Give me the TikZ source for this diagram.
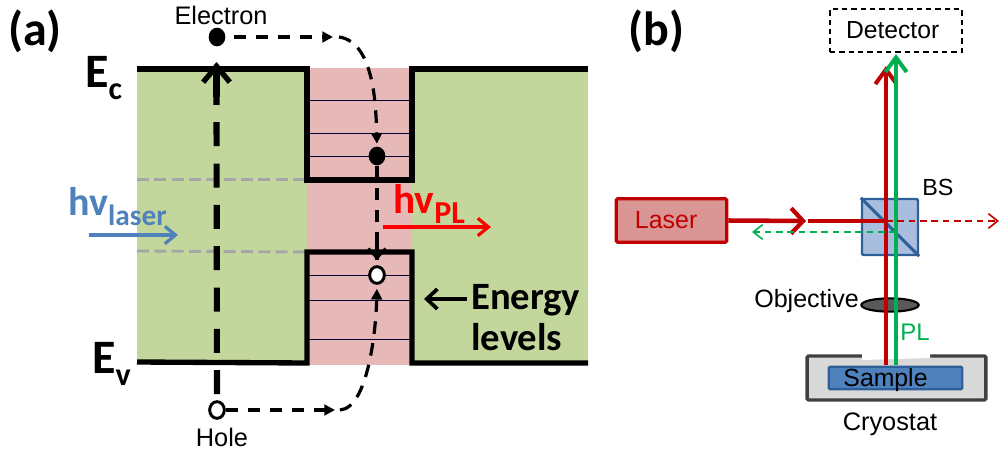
\documentclass[tikz,border=0pt]{standalone}
\usepackage{fontspec}
\setmainfont{Liberation Sans}
\newfontfamily\carl{Carlito}
\usetikzlibrary{arrows.meta,shapes.geometric}
\definecolor{greenband}{HTML}{C3D69B}
\definecolor{pinkband}{HTML}{E6B9B8}
\definecolor{beamred}{HTML}{C00000}
\definecolor{beamgreen}{HTML}{00B050}
\definecolor{blueLab}{HTML}{4F81BD}
\definecolor{hvred}{HTML}{FF0000}
\definecolor{laserfill}{HTML}{D99694}
\definecolor{bsfill}{HTML}{A9BEDE}
\definecolor{bsedge}{HTML}{2F5F98}
\tikzset{
  x=0.75pt,y=-0.75pt,
  band/.style={line width=4pt,line join=miter},
  level/.style={line width=0.6pt,draw=black!60!blue!50!black},
  greydash/.style={line width=2.2pt,draw=black!35,dash pattern=on 9pt off 4pt},
  carrier/.style={ellipse,minimum width=12.5pt,minimum height=14pt,inner sep=0pt},
  filled/.style={carrier,fill=black},
  hollow/.style={carrier,fill=white,draw=black,line width=2.2pt,minimum width=11pt,minimum height=12.5pt},
  flow/.style={line width=2.4pt,dash pattern=on 9.5pt off 7pt},
  lbl/.style={inner sep=0pt,text=black},
  small/.style={lbl,font=\fontsize{19}{21}\selectfont},
  big/.style={lbl,font=\carl\fontsize{36}{38}\selectfont\bfseries},
  engy/.style={lbl,font=\carl\fontsize{29}{31}\selectfont\bfseries},
  thintip/.style={-{Straight Barb[length=7pt,width=11pt,line width=1.2pt]}},
  beam/.style={line width=3.4pt},
}
\begin{document}
\begin{tikzpicture}
\useasboundingbox (0,0) rectangle (999,453);
% --- panel (a) backgrounds
\fill[greenband] (137,69) rectangle (307,363);
\fill[pinkband] (307,68) rectangle (412,365);
\fill[greenband] (412,69) rectangle (588,363);
% grey dashes
\coordinate (g1a) at (137,179.5); \coordinate (g1b) at (307,179.5);
\coordinate (g2a) at (137,251); \coordinate (g2b) at (307,252);
\draw[greydash] (g1a) -- (g1b);
\draw[greydash] (g2a) -- (g2b);
% levels
\foreach \yy in {100,133,156,275,300,339}{
  \draw[level] (307,\yy) -- (412,\yy);
}
% band edges
\draw[band] (137,69) -- (307,69) -- (307,180) -- (412,180) -- (412,69) -- (588,69);
\draw[band] (137,362) -- (307,363) -- (307,252) -- (412,252) -- (412,363) -- (588,363);
% carriers
\node[filled] (e1) at (217,37) {};
\node[filled] (e2) at (377,156) {};
\node[hollow] (h1) at (217,410) {};
\node[hollow] (h2) at (377,275) {};
% vertical excitation
\coordinate (ctop) at (216.5,62);
\draw[line width=4.6pt,dash pattern=on 18pt off 13pt] (h1.north) ++(0,-6) -- (216.5,97);
\draw[line width=4.6pt,-{Straight Barb[length=12pt,width=20pt,line width=4pt]}] (216.5,97) -- (ctop);
% electron path
\coordinate (em) at (333,37);
\draw[flow,-{Triangle[length=8pt,width=8pt]}] (e1.east) ++(8,0) -- (em);
\draw[flow,shorten >=2pt,-{Triangle[length=8pt,width=8pt]}] (em) ++(6,0) .. controls (375,42) and (376,110) .. (e2.north);
% hole path
\coordinate (hm) at (335,410);
\draw[flow,-{Triangle[length=8pt,width=8pt]}] (h1.east) -- (hm);
\draw[flow,shorten >=3pt,-{Triangle[length=8pt,width=8pt]}] (hm) ++(5,0) .. controls (368,408) and (376,330) .. (h2.south);
% recombination
\coordinate (rb) at (377,260);
\draw[flow] (e2.south) -- (rb);
\draw[line width=2.4pt,-{Straight Barb[length=7pt,width=13pt,line width=2.2pt]}] (377,240) -- (rb);
% arrows
\coordinate (la) at (89,235); \coordinate (lb) at (178,235);
\draw[blueLab,line width=2.4pt,-{Straight Barb[length=8pt,width=13pt,line width=2.4pt]}] (la) -- (lb);
\coordinate (pa) at (383,227); \coordinate (pb) at (491,227);
\draw[hvred,line width=2.4pt,-{Straight Barb[length=8pt,width=13pt,line width=2.4pt]}] (pa) -- (pb);
\coordinate (ea) at (467,299); \coordinate (eb) at (424,299);
\draw[line width=2.8pt,-{Straight Barb[length=8pt,width=15pt,line width=2.8pt]}] (ea) -- (eb);
% labels (a)
\node[big,anchor=base west] (pa1) at (8,46) {(a)};
\node[big,anchor=base west] (pb1) at (628,46) {(b)};
\node[big,anchor=base west] (ec) at (85,88) {E\raisebox{-9pt}{\fontsize{24}{26}\selectfont c}};
\node[big,anchor=base west] (ev) at (92,373) {E\raisebox{-9.5pt}{\fontsize{24}{26}\selectfont v}};
\node[small,anchor=base] (tel) at (221,25) {Electron};
\node[small,anchor=base] (thl) at (222,446) {Hole};
\node[lbl,text=blueLab,anchor=base west,font=\carl\fontsize{30}{32}\selectfont\bfseries] (hvl) at (68,215) {hv\raisebox{-7.5pt}{\fontsize{22}{24}\selectfont laser}};
\node[lbl,text=hvred,anchor=base west,font=\carl\fontsize{31}{33}\selectfont\bfseries] (hvp) at (393,213) {hv\raisebox{-7.5pt}{\fontsize{24}{26}\selectfont PL}};
\node[engy,anchor=base west] (en) at (471,309) {Energy};
\node[engy,anchor=base west] (lv) at (471,350) {levels};
% --- panel (b)
\node[draw=black,line width=1.2pt,dash pattern=on 4pt off 3pt,minimum width=99pt,minimum height=32pt,inner sep=0pt,font=\fontsize{18.5}{20}\selectfont] (det) at (896,30.5) {\hspace*{-5pt}Detector};
\node[draw=beamred,fill=laserfill,line width=2.4pt,rounded corners=1pt,minimum width=83pt,minimum height=32.5pt,inner sep=0pt,text=beamred,font=\fontsize{18.7}{20}\selectfont] (laser) at (671.5,220.5) {\hspace*{-8pt}Laser};
\node[draw=bsedge,fill=bsfill,line width=1.8pt,rounded corners=1pt,minimum width=42pt,minimum height=42pt,inner sep=0pt] (bs) at (890,227) {};
\draw[bsedge,line width=2.2pt] (bs.north west) -- (bs.south east);
% cryostat
\node[draw=black!75,fill=black!15,line width=2.6pt,rounded corners=1pt,minimum width=134pt,minimum height=33pt,inner sep=0pt] (cry) at (896.5,378) {};
\fill[white] (862,352) -- (930,352) -- (930,358) -- (862,360) -- cycle;
\node[draw=bsedge,fill=blueLab,line width=1.7pt,rounded corners=1pt,minimum width=100pt,minimum height=17pt,inner sep=0pt] (samp) at (895.5,378) {};
\node[lbl,anchor=base,font=\fontsize{18.6}{20}\selectfont] (samt) at (885.5,386) {Sample};
\node[draw=black,fill=black!65,ellipse,line width=1.6pt,minimum width=43pt,minimum height=10pt,inner sep=0pt] (obj) at (890,305) {};
% beams
\coordinate (rtop) at (886,66); \coordinate (rbot) at (886,365);
\coordinate (gtop) at (896,54); \coordinate (gbot) at (896,365);
\draw[beamred,beam,-{Straight Barb[length=11pt,width=16pt,line width=3pt]}] (rbot) -- (rtop);
\draw[beamgreen,beam,-{Straight Barb[length=11pt,width=16pt,line width=3pt]}] (gbot) -- (gtop);
\coordinate (mid) at (806,221); \coordinate (bsc) at (886,221);
\draw[beamred,beam,-{Straight Barb[length=9pt,width=19pt,line width=3.2pt]}] (laser.east) -- (mid);
\draw[beamred,beam] (mid) ++(2,0) -- (bsc);
\coordinate (rout) at (999,221);
\draw[beamred,line width=0.9pt,dash pattern=on 5pt off 3.5pt,thintip] (bsc) -- (rout);
\coordinate (gin) at (896,232); \coordinate (gout) at (752,232);
\draw[beamgreen,line width=1.1pt,dash pattern=on 5pt off 3.5pt,thintip] (gin) -- (gout);
% labels (b)
\node[lbl,anchor=base west,font=\fontsize{17.5}{19}\selectfont] (tbs) at (922,195) {BS};
\node[lbl,anchor=base east,font=\fontsize{18.8}{20}\selectfont] (tob) at (859,307) {Objective};
\node[lbl,text=beamgreen,anchor=base west,font=\fontsize{18}{20}\selectfont] (tpl) at (900,340) {PL};
\node[lbl,anchor=base,font=\fontsize{19}{21}\selectfont] (tcr) at (890,430) {Cryostat};
\end{tikzpicture}
\end{document}
